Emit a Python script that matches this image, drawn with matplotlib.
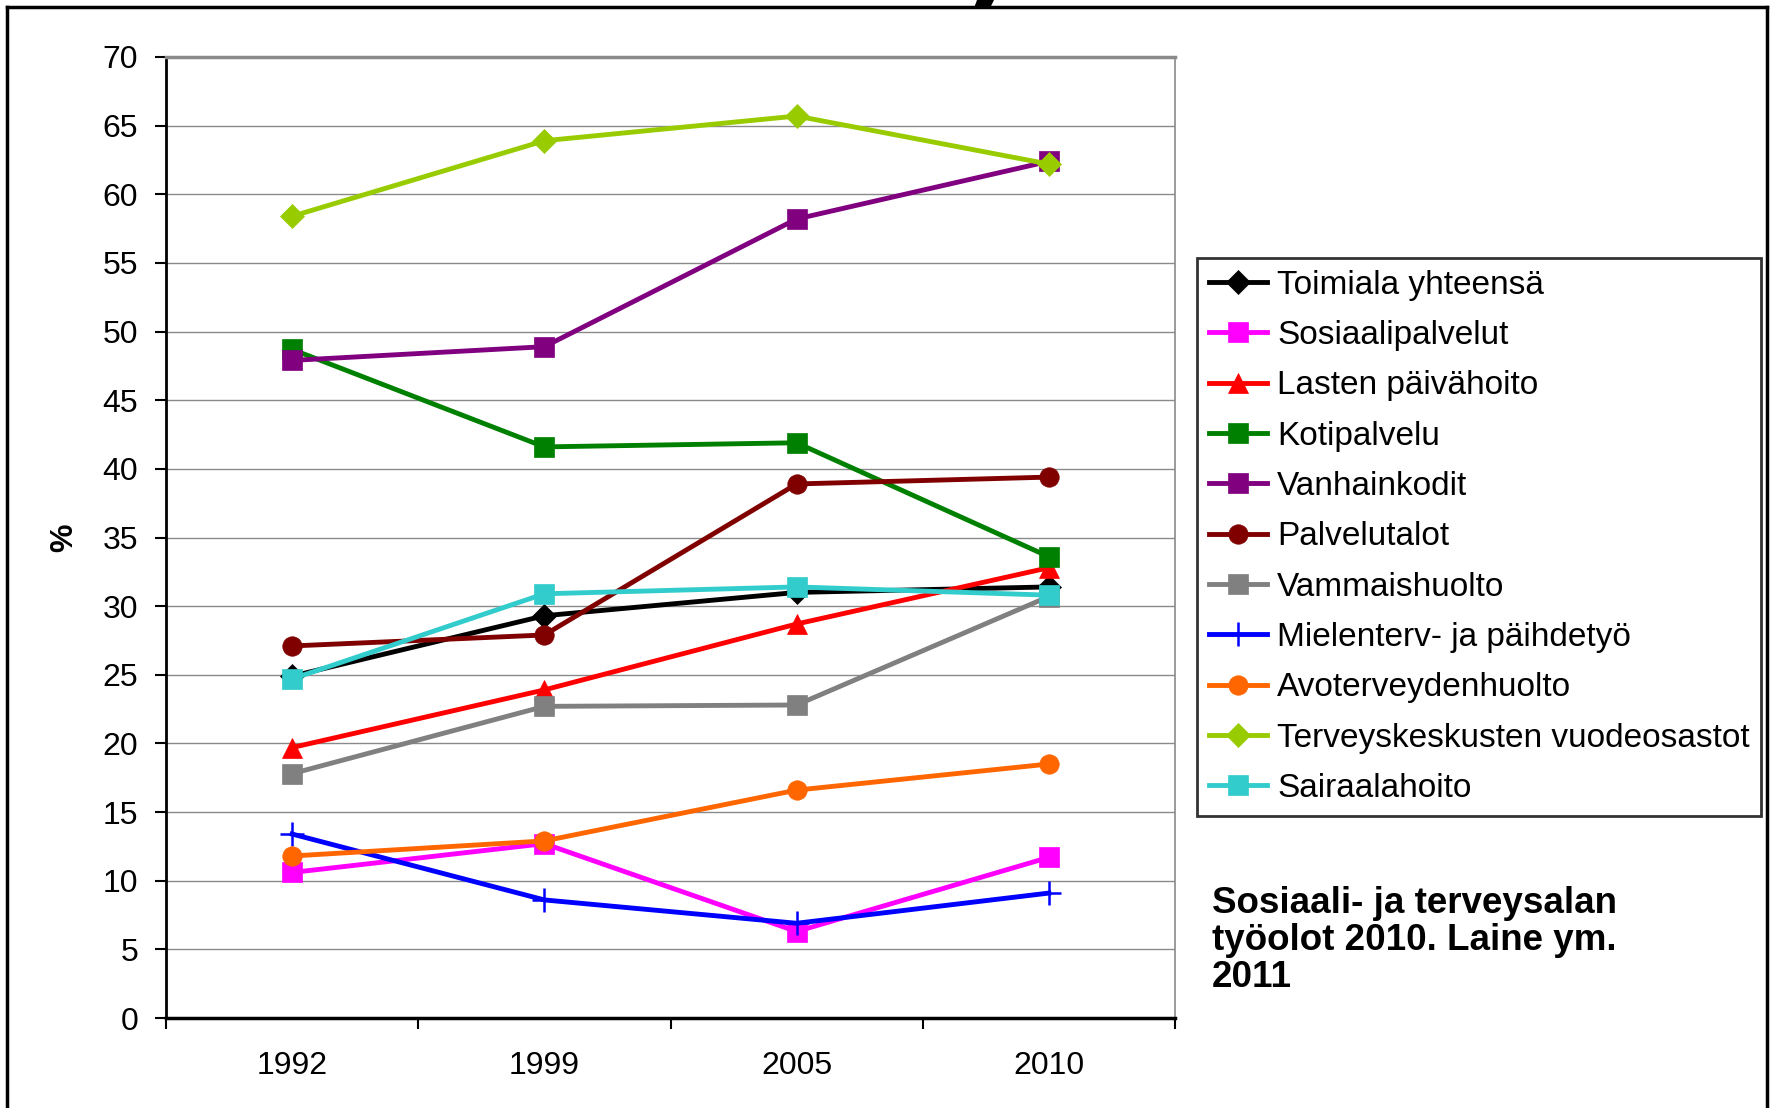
import numpy as np
import matplotlib
matplotlib.use('Agg')
import matplotlib.pyplot as plt
from matplotlib.lines import Line2D
from matplotlib.patches import Polygon

plt.rcParams['font.family'] = ['Liberation Sans', 'DejaVu Sans']

years = ['1992', '1999', '2005', '2010']

toimiala = [24.9, 29.3, 31.0, 31.4]
sosiaali = [10.6, 12.7, 6.3, 11.7]
lasten = [19.7, 23.9, 28.7, 32.8]
koti = [48.7, 41.6, 41.9, 33.6]
vanhain = [47.9, 48.9, 58.2, 62.4]
palvelutalot = [27.1, 27.9, 38.9, 39.4]
vammais = [17.8, 22.7, 22.8, 30.7]
mielenterv = [13.4, 8.6, 6.9, 9.1]
avoter = [11.8, 12.9, 16.6, 18.5]
terveysk = [58.4, 63.9, 65.7, 62.2]
sairaala = [24.7, 30.9, 31.4, 30.8]

series = [
    ('Toimiala yhteensä', toimiala, '#000000', 'D'),
    ('Sosiaalipalvelut', sosiaali, '#FF00FF', 's'),
    ('Lasten päivähoito', lasten, '#FF0000', '^'),
    ('Kotipalvelu', koti, '#008000', 's'),
    ('Vanhainkodit', vanhain, '#800080', 's'),
    ('Palvelutalot', palvelutalot, '#800000', 'o'),
    ('Vammaishuolto', vammais, '#808080', 's'),
    ('Mielenterv- ja päihdetyö', mielenterv, '#0000FF', '+'),
    ('Avoterveydenhuolto', avoter, '#FF6600', 'o'),
    ('Terveyskeskusten vuodeosastot', terveysk, '#99CC00', 'D'),
    ('Sairaalahoito', sairaala, '#33CCCC', 's'),
]

W, H = 1771, 1108
fig = plt.figure(figsize=(W / 100, H / 100), dpi=100)
ax = fig.add_axes([166 / W, 1 - 1018 / H, (1175 - 166) / W, (1018 - 57) / H])

x = np.arange(len(years)) + 0.5
for name, vals, col, mk in series:
    ms = 14
    if mk == 'D':
        ms = 12
    elif mk == '^':
        ms = 15
    elif mk == '+':
        ms = 17
    ax.plot(x, vals, color=col, lw=3.5, marker=mk, markersize=ms,
            markeredgewidth=1.8 if mk == '+' else 0.5, markeredgecolor=col,
            label=name, clip_on=False, zorder=3)

ax.set_xlim(0, 4)
ax.set_ylim(0, 70)
ax.set_yticks(np.arange(0, 71, 5))
ax.yaxis.grid(True, color='#8a8a8a', lw=1.0)
ax.set_axisbelow(True)

ax.set_xticks(np.arange(0, 5))
ax.set_xticklabels([])
ax.set_xticks(x, minor=True)
ax.set_xticklabels(years, minor=True)
ax.tick_params(axis='x', which='major', direction='out', length=8, width=1.5, color='black')
ax.tick_params(axis='x', which='minor', length=0, pad=24, labelsize=23)
ax.tick_params(axis='y', direction='out', length=8, width=1.5, pad=12, labelsize=23)

ax.spines['left'].set_linewidth(2)
ax.spines['bottom'].set_linewidth(2.5)
ax.spines['right'].set_color('#8a8a8a')
ax.spines['right'].set_linewidth(1.2)
ax.spines['top'].set_color('#8a8a8a')
ax.spines['top'].set_linewidth(2.5)

ax.set_ylabel('%', fontsize=23, fontweight='bold')
ax.yaxis.set_label_coords((79 - 166) / (1175 - 166), 0.5)

leg = ax.legend(loc='upper left', bbox_to_anchor=(1197 / W, 1 - 258 / H),
                bbox_transform=fig.transFigure, borderaxespad=0, fontsize=24,
                frameon=True, fancybox=False, edgecolor='black',
                handlelength=1.75, handletextpad=0.3, labelspacing=0.58,
                borderpad=0.35)
leg.get_frame().set_linewidth(2)

fig.text(1212 / W, 1 - 886 / H,
         'Sosiaali- ja terveysalan\ntyöolot 2010. Laine ym.\n2011',
         fontsize=26.5, fontweight='bold', va='top', ha='left', linespacing=1.08)

# bit of the slide title showing over the frame
fig.add_artist(Polygon([(977 / W, 1.0), (994 / W, 1.0), (990 / W, 1 - 8 / H),
                        (974 / W, 1 - 8 / H)], closed=True,
                       transform=fig.transFigure, color='black', lw=0))

# frame round the slide
for xs, ys in [([7, 7], [H, 7]), ([7, 1767], [7, 7]), ([1767, 1767], [7, H])]:
    fig.add_artist(Line2D([v / W for v in xs], [1 - v / H for v in ys],
                          transform=fig.transFigure, color='black', lw=2.5))

fig.savefig('out.png', dpi=100)
